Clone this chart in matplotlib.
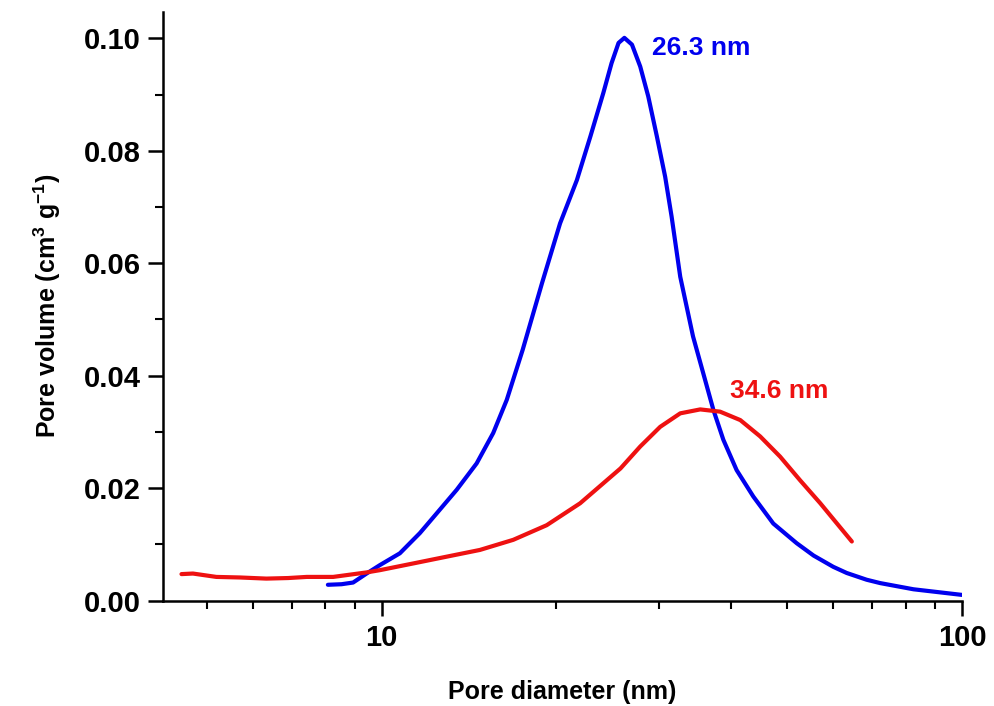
import matplotlib
matplotlib.use("Agg")
import matplotlib.pyplot as plt
from matplotlib.ticker import LogLocator, MultipleLocator, FixedLocator, NullFormatter

plt.rcParams['font.family'] = ['Liberation Sans', 'DejaVu Sans']
plt.rcParams['font.weight'] = 'bold'
plt.rcParams['mathtext.fontset'] = 'custom'
plt.rcParams['mathtext.rm'] = 'Liberation Sans:bold'
plt.rcParams['mathtext.bf'] = 'Liberation Sans:bold'
plt.rcParams['mathtext.it'] = 'Liberation Sans:bold'

# Blue sample (peak 26.3 nm)
blue_d = [8.08, 8.53, 8.93, 9.42, 9.93, 10.75, 11.64, 12.44, 13.47, 14.58, 15.57, 16.43,
          17.5, 18.9, 20.3, 21.7, 22.9, 24.1, 24.9, 25.6, 26.2, 27.0, 27.9, 28.8, 29.8,
          30.8, 31.6, 32.7, 34.4, 36.1, 37.3, 38.8, 40.9, 43.7, 47.3, 51.9, 55.5, 60.0,
          63.3, 68.5, 72.3, 82.5, 100.0]
blue_v = [0.0028, 0.0029, 0.0032, 0.0048, 0.0063, 0.0084, 0.0120, 0.0155, 0.0197, 0.0244,
          0.0298, 0.0357, 0.0446, 0.0565, 0.0671, 0.0748, 0.0826, 0.0903, 0.0956, 0.0992,
          0.1001, 0.0989, 0.0950, 0.0897, 0.0826, 0.0754, 0.0683, 0.0576, 0.0470, 0.0392,
          0.0339, 0.0286, 0.0232, 0.0185, 0.0137, 0.0102, 0.0080, 0.0060, 0.0049, 0.0037,
          0.0031, 0.0020, 0.0010]

# Red sample (peak 34.6 nm)
red_d = [4.52, 4.73, 5.19, 5.7, 6.33, 6.9, 7.43, 8.25, 9.42, 9.93, 11.34, 12.94, 14.77,
         16.86, 19.25, 21.98, 25.8, 27.9, 30.2, 32.7, 35.4, 38.3, 41.5, 44.9, 48.6, 52.6,
         57.0, 60.9, 64.6]
red_v = [0.0047, 0.0048, 0.0042, 0.0041, 0.0039, 0.0040, 0.0042, 0.0042, 0.0050, 0.0054,
         0.0066, 0.0078, 0.0090, 0.0108, 0.0134, 0.0173, 0.0235, 0.0274, 0.0309, 0.0333,
         0.0340, 0.0336, 0.0321, 0.0292, 0.0256, 0.0214, 0.0173, 0.0137, 0.0105]

ytick_vals = [0.00, 0.02, 0.04, 0.06, 0.08, 0.10]
ytick_labels = ['0.00', '0.02', '0.04', '0.06', '0.08', '0.10']
xtick_vals = [10, 100]
xtick_labels = ['10', '100']

fig = plt.figure(figsize=(9.95, 7.06), dpi=100)
ax = fig.add_axes([0.1638, 0.1494, 0.9668 - 0.1638, 0.983 - 0.1494])

ax.plot(blue_d, blue_v, color='#0000ee', lw=3.0, solid_capstyle='round', solid_joinstyle='round')
ax.plot(red_d, red_v, color='#ee1111', lw=3.0, solid_capstyle='round', solid_joinstyle='round')

ax.set_xscale('log')
ax.set_xlim(4.2, 100)
ax.set_ylim(0, 0.1047)

ax.xaxis.set_major_locator(FixedLocator(xtick_vals))
ax.set_xticklabels(xtick_labels)
ax.xaxis.set_minor_locator(LogLocator(base=10, subs=range(2, 10)))
ax.xaxis.set_minor_formatter(NullFormatter())

ax.yaxis.set_major_locator(FixedLocator(ytick_vals))
ax.set_yticklabels(ytick_labels)
ax.yaxis.set_minor_locator(MultipleLocator(0.01))

for s in ['top', 'right']:
    ax.spines[s].set_visible(False)
for s in ['left', 'bottom']:
    ax.spines[s].set_linewidth(1.8)

ax.tick_params(which='major', direction='out', length=11, width=1.8, labelsize=21, pad=5)
ax.tick_params(which='minor', direction='out', length=6, width=1.5)
ax.tick_params(axis='x', which='major', pad=6)
for lab in ax.get_xticklabels() + ax.get_yticklabels():
    lab.set_fontweight('bold')

ax.set_xlabel('Pore diameter (nm)', fontsize=18, fontweight='bold', labelpad=20)
ax.set_ylabel(r'Pore volume (cm$^{\mathbf{3}}$ g$^{\mathbf{-1}}$)', fontsize=18,
              fontweight='bold', labelpad=15)

ax.text(29.2, 0.0983, '26.3 nm', color='#0000ee', fontsize=19, fontweight='bold',
        ha='left', va='center')
ax.text(39.9, 0.0372, '34.6 nm', color='#ee1111', fontsize=19, fontweight='bold',
        ha='left', va='center')

fig.savefig('out.png', dpi=100)
